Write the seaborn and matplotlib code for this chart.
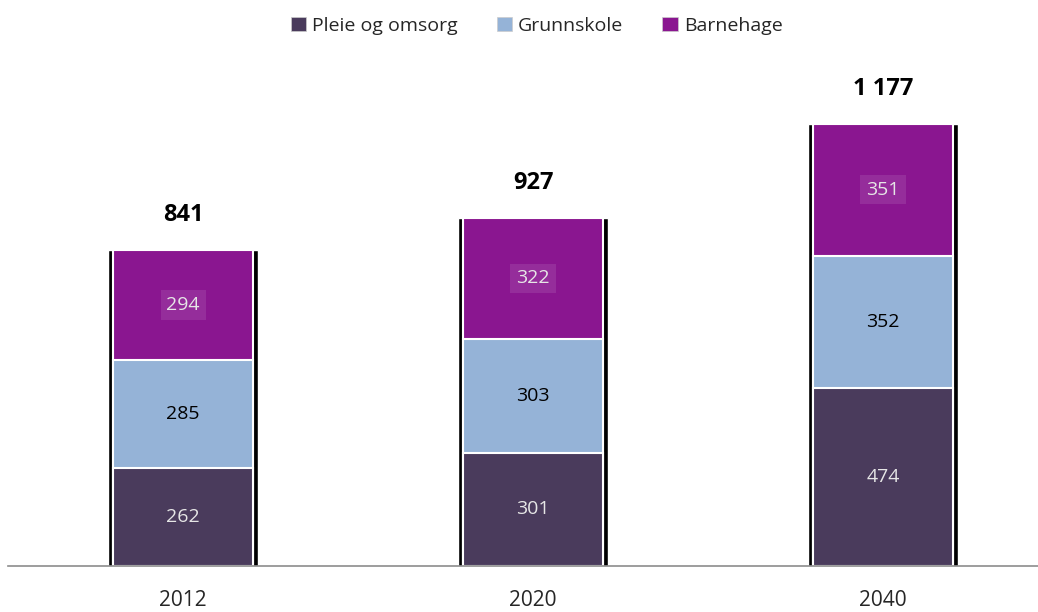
import numpy as np
import pandas as pd
import seaborn as sns
import matplotlib.pyplot as plt
from matplotlib.patches import Patch

# data
years = ['2012', '2020', '2040']
pleie = [262, 301, 474]
grunnskole = [285, 303, 352]
barnehage = [294, 322, 351]
totals = ['841', '927', '1 177']

series_names = ['Pleie og omsorg', 'Grunnskole', 'Barnehage']
colors = ['#4a3b5c', '#95b3d7', '#8a1690']
label_colors = ['#e6e6e6', '#000000', '#e6e6e6']

sns.set_style('white')
plt.rcParams['font.family'] = ['Open Sans', 'DejaVu Sans']

df = pd.DataFrame({'year': years, 'p': pleie, 'g': grunnskole, 'b': barnehage})
df['c1'] = df['p']
df['c2'] = df['p'] + df['g']
df['c3'] = df['c2'] + df['b']

fig = plt.figure(figsize=(10.38, 6.12), dpi=100)
ax = fig.add_axes([0.008, 0.0752, 0.992, 0.794])

# shadow behind the stacks
sns.barplot(data=df, x='year', y='c3', color='black', width=0.43,
            saturation=1, ax=ax)
# stacks drawn from the top down so lower parts cover upper ones
for col, c in zip(['c3', 'c2', 'c1'], colors[::-1]):
    sns.barplot(data=df, x='year', y=col, color=c, width=0.4, saturation=1,
                edgecolor='white', linewidth=1.5, ax=ax)

# segment labels
for i in range(len(years)):
    bottoms = [0, df['c1'][i], df['c2'][i]]
    vals = [pleie[i], grunnskole[i], barnehage[i]]
    for k in range(3):
        y = bottoms[k] + vals[k] / 2
        kw = {}
        if k == 2:
            kw['bbox'] = dict(boxstyle='square,pad=0.3', fc='white', alpha=0.1, ec='none')
        ax.text(i, y, str(vals[k]), ha='center', va='center', fontsize=14,
                color=label_colors[k], **kw)
    ax.text(i, df['c3'][i] + 92, totals[i], ha='center', va='center',
            fontsize=17, fontweight='bold', color='black')

ax.set_xlim(-0.5, 2.443)
ax.set_ylim(0, 1293)
ax.set_xlabel('')
ax.set_ylabel('')
ax.set_yticks([])
ax.tick_params(axis='x', length=0, labelsize=15, pad=17)
for s in ['top', 'right', 'left']:
    ax.spines[s].set_visible(False)
ax.spines['bottom'].set_color('#8c8c8c')
ax.spines['bottom'].set_linewidth(1.2)

handles = [Patch(facecolor=c, edgecolor='#cccccc', linewidth=0.5) for c in colors]
fig.legend(handles, series_names, loc='center', bbox_to_anchor=(0.517, 0.958),
           ncol=3, frameon=False, fontsize=14, handlelength=0.8, handleheight=0.8,
           handletextpad=0.3, columnspacing=2.0)

fig.savefig('out.png', dpi=100)
